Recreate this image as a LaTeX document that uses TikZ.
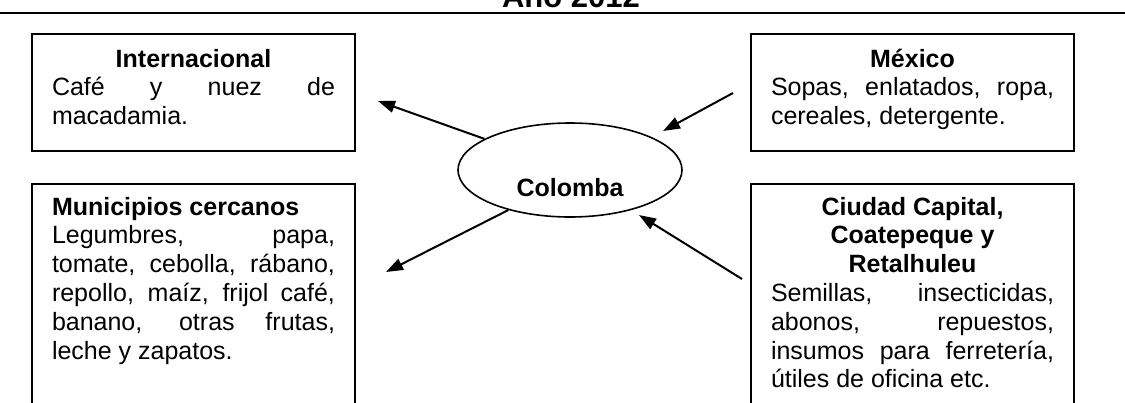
\documentclass[tikz,border=0pt]{standalone}
\usepackage{fontspec}
\setmainfont{Liberation Sans}
\usetikzlibrary{arrows.meta,shapes.geometric,positioning}

\begin{document}
\begin{tikzpicture}[
  x=0.5pt, y=-0.5pt,
  font=\fontsize{12.5}{14.4}\selectfont,
  mybox/.style={
    draw,
    line width=1pt,
    anchor=north west,
    text width=141.5pt,
    inner xsep=10pt,
    inner ysep=0pt,
    align=justify,
    text height=16.5pt,
    execute at begin node={\tolerance=10000\hyphenpenalty=10000}
    },
  myellipse/.style={
    draw,
    ellipse,
    line width=0.8pt,
    minimum width=112pt,
    minimum height=47pt,
    inner sep=0pt
    },
  myarrow/.style={line width=1pt, -{Triangle[length=8.5pt,width=6pt]}}
]
\path[use as bounding box, clip] (0,0) rectangle (1125,402);

% title and rule
\node[font=\bfseries\fontsize{15.5}{18}\selectfont, anchor=base] (anio) at (571,7) {Año 2012};
\draw[line width=0.9pt] (0,13) -- (1125,13);

% boxes
\node[mybox, text depth=42pt] (internacional) at (31,33)
  {{\centering\bfseries Internacional\par}Café y nuez de\linebreak macadamia.};
\node[mybox, text depth=42pt] (mexico) at (750,33)
  {{\centering\bfseries México\par}Sopas, enlatados, ropa,\linebreak cereales, detergente.};
\node[mybox, text height=15.5pt, text depth=150pt] (municipios) at (31,183)
  {{\bfseries Municipios cercanos\par}Legumbres, papa,\linebreak tomate, cebolla, rábano,\linebreak
   repollo, maíz, frijol café,\linebreak banano, otras frutas,\linebreak leche y zapatos.};
\node[mybox, text height=15.5pt, text depth=150pt] (ciudad) at (750,183)
  {{\centering\bfseries Ciudad Capital,\par Coatepeque y\par Retalhuleu\par}Semillas, insecticidas,\linebreak
   abonos, repuestos,\linebreak insumos para ferretería,\linebreak útiles de oficina etc.};

% center
\node[myellipse, label={[yshift=-9pt, font=\bfseries\fontsize{12.5}{14.4}\selectfont]center:Colomba}] (colomba) at (570,170) {};

% arrows
\coordinate (interend) at (378,101);
\coordinate (mexicostart) at (733,93);
\coordinate (mexicoend) at (663,131);
\coordinate (municipiosend) at (386,272);
\coordinate (ciudadstart) at (742,279);
\coordinate (ciudadend) at (639,215);

\draw[myarrow] (colomba.160) -- (interend);
\draw[myarrow] (mexicostart) -- (mexicoend);
\draw[myarrow] (colomba.213) -- (municipiosend);
\draw[myarrow] (ciudadstart) -- (ciudadend);

\end{tikzpicture}
\end{document}
